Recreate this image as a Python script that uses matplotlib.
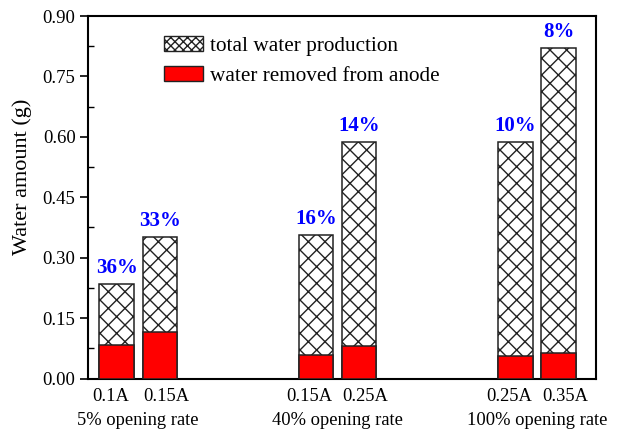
import matplotlib
matplotlib.use("Agg")
import matplotlib.pyplot as plt
from matplotlib.patches import Patch
from matplotlib.ticker import MultipleLocator, FormatStrFormatter
import matplotlib.transforms as mtransforms

plt.rcParams['font.family'] = ['Liberation Serif', 'DejaVu Serif']
plt.rcParams['hatch.linewidth'] = 1.0

# water amounts in grams, two load currents per opening rate
groups = ['5% opening rate', '40% opening rate', '100% opening rate']
currents = ['0.1A', '0.15A', '0.15A', '0.25A', '0.25A', '0.35A']
total_water = [0.235, 0.352, 0.357, 0.588, 0.588, 0.821]
anode_removed = [0.084, 0.116, 0.058, 0.081, 0.056, 0.063]

offset = 0.108
width = 0.173
xs, label_xs = [], []
for g in range(len(groups)):
    xs += [g - offset, g + offset]
    label_xs += [g - 0.14, g + 0.14]

fig = plt.figure(figsize=(6.27, 4.29), dpi=100)
ax = fig.add_axes([88/627, 1 - 378.5/429, (596 - 88)/627, (378.5 - 16)/429])

ax.bar(xs, total_water, width, color='white', edgecolor='#222222',
       hatch='xx', linewidth=1.1, zorder=2)
ax.bar(xs, anode_removed, width, color='#ff0000', edgecolor='#222222',
       linewidth=1.1, zorder=3)

# share of water leaving through the anode
for x, t, r in zip(xs, total_water, anode_removed):
    ax.annotate('%d%%' % round(100 * r / t), (x, t), xytext=(0, 11.5),
                textcoords='offset points', ha='center', va='center',
                color='#0000ff', fontsize=15, fontweight='bold')

ax.set_xlim(-0.252, 2.296)
ax.set_ylim(0, 0.9)
ax.yaxis.set_major_locator(MultipleLocator(0.15))
ax.yaxis.set_minor_locator(MultipleLocator(0.075))
ax.yaxis.set_major_formatter(FormatStrFormatter('%.2f'))
ax.tick_params(axis='y', which='major', direction='out', length=6, width=1.2,
               labelsize=13.5, pad=3)
ax.tick_params(axis='y', which='minor', direction='in', length=4, width=1.0)
ax.set_xticks(label_xs)
ax.set_xticklabels(currents)
ax.tick_params(axis='x', length=0, labelsize=13.3, pad=7)
for s in ax.spines.values():
    s.set_linewidth(1.5)

trans = mtransforms.blended_transform_factory(ax.transData, ax.transAxes)
for g, name in enumerate(groups):
    ax.text(g, -0.117, name, transform=trans, ha='center', va='center',
            fontsize=13.3)

fig.text(22.5/627, 1 - 177/429, 'Water amount (g)', rotation=90,
         ha='center', va='center', fontsize=16)

handles = [Patch(facecolor='white', edgecolor='#222222', hatch='xxxx', linewidth=1.0),
           Patch(facecolor='#ff0000', edgecolor='#222222', linewidth=1.0)]
ax.legend(handles, ['total water production', 'water removed from anode'],
          loc='upper left', bbox_to_anchor=(0.1496, 0.944), frameon=False,
          borderaxespad=0, borderpad=0, fontsize=15.3, handlelength=1.85,
          handleheight=0.72, handletextpad=0.3, labelspacing=0.45)

fig.savefig('out.png', dpi=100)
